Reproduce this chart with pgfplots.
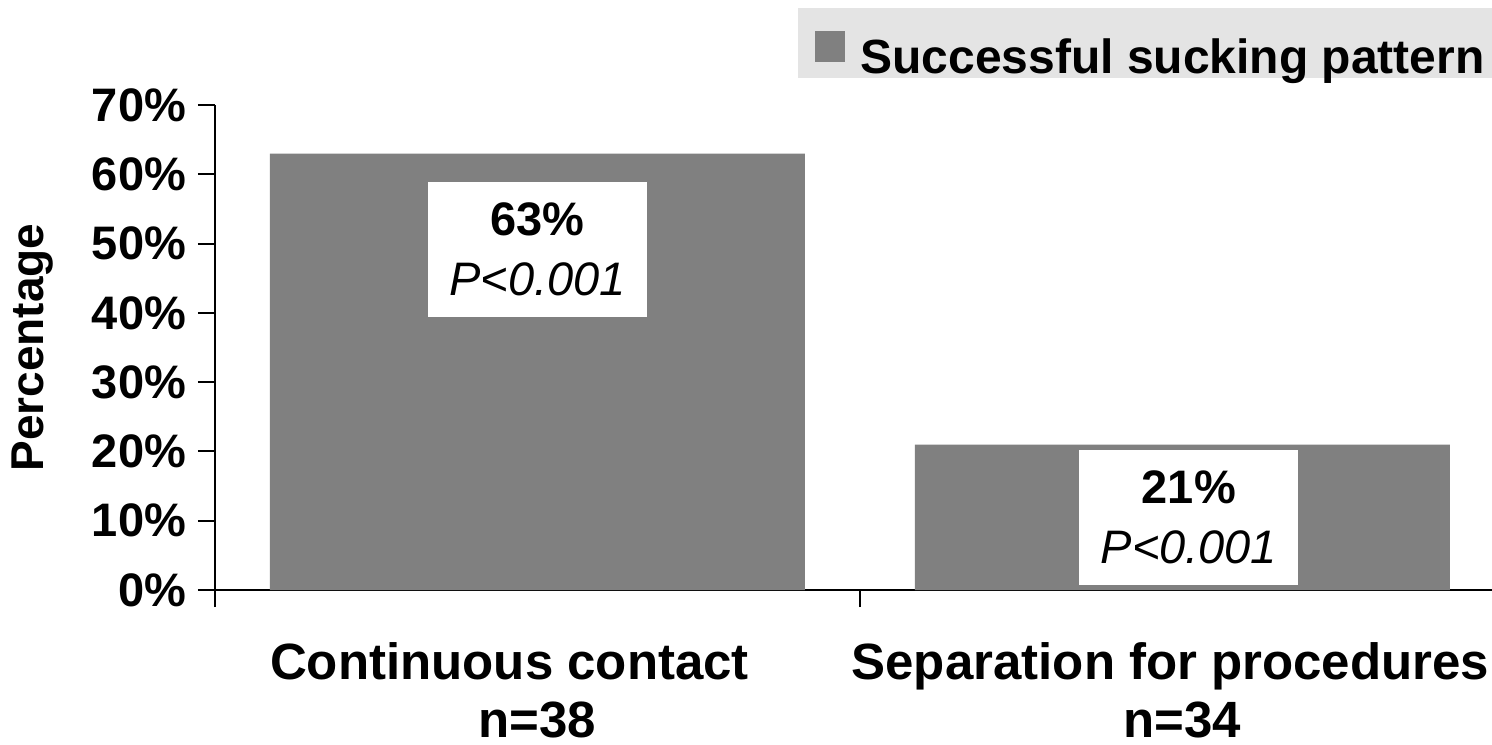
\documentclass[border=0pt]{standalone}
\usepackage{pgfplots}
\pgfplotsset{compat=1.18}
\usepackage{fontspec}
\setmainfont{Liberation Sans}
\definecolor{barcolor}{RGB}{128,128,128}
\definecolor{legendbg}{RGB}{228,228,228}
\begin{document}
\begin{tikzpicture}
\useasboundingbox (-107.5bp,-77.5bp) rectangle (638.5bp,295bp);
\begin{axis}[
  at={(0,0)}, anchor=south west,
  scale only axis, width=638.5bp, height=242.5bp,
  xmin=-0.5, xmax=1.48, ymin=0, ymax=70,
  axis x line*=bottom, axis y line*=left,
  axis line style={black, line width=1bp},
  tick align=outside, major tick length=8.5bp,
  tick style={black, line width=1bp},
  ytick={0,10,20,30,40,50,60,70},
  yticklabel={\pgfmathprintnumber[assume math mode=true]{\tick}\%},
  yticklabel style={font=\fontsize{23.5bp}{26bp}\selectfont\bfseries, xshift=-2.5bp},
  xtick={-0.5,0.5}, xticklabels={},
  extra x ticks={0,1},
  extra x tick labels={{Continuous contact\hspace*{28bp}\\n=38},{Separation for procedures\hspace*{12bp}\\n=34}},
  extra x tick style={major tick length=0pt,
    tick label style={font=\fontsize{25.5bp}{29bp}\selectfont\bfseries, align=center, anchor=north, inner sep=0pt, yshift=-26bp}},
  ylabel={Percentage},
  ylabel style={font=\fontsize{23bp}{26bp}\selectfont\bfseries, anchor=center, at={(axis description cs:-0.1425,0.5)}},
  legend style={draw=none, fill=legendbg, at={(1,1.2)}, anchor=north east,
    font=\fontsize{24bp}{28bp}\selectfont\bfseries,
    inner xsep=3.5bp, inner ysep=0pt, column sep=7.5bp,
    nodes={inner sep=0pt, text height=32.5bp, text depth=2.5bp}},
  legend image code/.code={\path (-5bp,0bp); \fill[barcolor] (0bp,-9.5bp) rectangle (15bp,6bp);},
  clip=false,
]
\addplot[ybar, bar width=267.5bp, fill=barcolor, draw=none] coordinates {(0,63) (1,21)};
\addlegendentry{Successful sucking pattern}
\node[fill=white, minimum width=109.5bp, minimum height=67.5bp, align=center,
  font=\fontsize{23.5bp}{30bp}\selectfont] at (axis cs:0,49.1) {\textbf{63\%}\\\textit{P<0.001}};
\node[fill=white, minimum width=109.5bp, minimum height=67.5bp, align=center,
  font=\fontsize{23.5bp}{30bp}\selectfont] at (axis cs:1.01,10.5) {\textbf{21\%}\\\textit{P<0.001}};
\end{axis}
\end{tikzpicture}
\end{document}
